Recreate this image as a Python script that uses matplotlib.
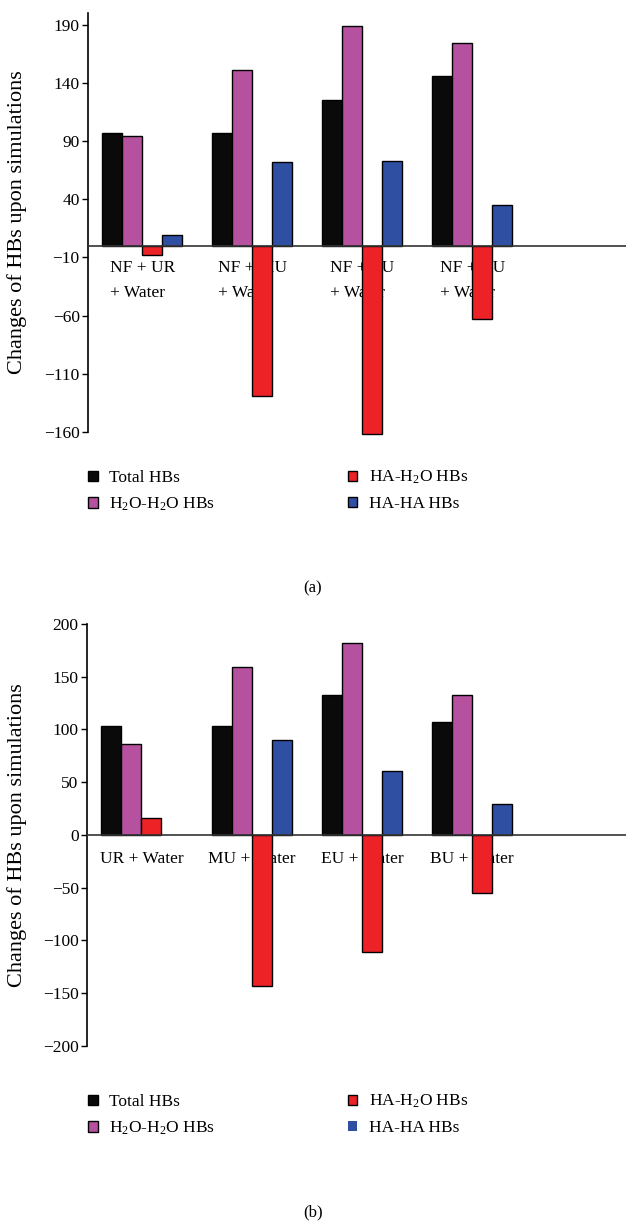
import matplotlib
matplotlib.use("Agg")
import matplotlib.pyplot as plt
import numpy as np

plt.rcParams['font.family'] = ['Liberation Serif', 'DejaVu Serif']
plt.rcParams['mathtext.fontset'] = 'custom'
plt.rcParams['mathtext.rm'] = 'Liberation Serif'
plt.rcParams['mathtext.it'] = 'Liberation Serif:italic'

# data
series = ['Total HBs', 'H$_2$O-H$_2$O HBs', 'HA-H$_2$O HBs', 'HA-HA HBs']
colors = ['#0a0a0a', '#b5519e', '#ec2227', '#2f4fa3']

cats_a = ['NF + UR\n+ Water', 'NF + MU\n+ Water', 'NF + EU\n+ Water', 'NF + BU\n+ Water']
total_a = [97, 97, 125, 146]
h2o_a = [94, 151, 189, 174]
hah2o_a = [-8, -129, -162, -63]
haha_a = [9.5, 72, 73, 35]
yticks_a = [190, 140, 90, 40, -10, -60, -110, -160]

cats_b = ['UR + Water', 'MU + Water', 'EU + Water', 'BU + Water']
total_b = [103, 103, 133, 107]
h2o_b = [86, 159, 182, 133]
hah2o_b = [16.5, -143, -111, -55]
haha_b = [0, 90, 61, 29]
yticks_b = [200, 150, 100, 50, 0, -50, -100, -150, -200]

W, H = 626, 1221
fig = plt.figure(figsize=(W / 100, H / 100), dpi=100)


def panel(rect, cats, vals, yticks, ylim, lab_y, leg_y, cap, cap_y):
    ax = fig.add_axes(rect)
    x = np.arange(len(cats))
    w = 0.182
    for i, v in enumerate(vals):
        v = np.array(v, dtype=float)
        ax.bar(x + (i - 1.5) * w, v, w, color=colors[i], edgecolor='black',
               linewidth=np.where(v == 0, 0, 1.0), label=series[i],
               clip_on=False, zorder=3)
    ax.axhline(0, color='#333333', lw=1.2, zorder=4)
    ax.set_xlim(-0.494, 4.397)
    ax.set_ylim(*ylim)
    ax.set_yticks(yticks)
    ax.set_yticklabels([str(t).replace('-', '\u2212') for t in yticks], fontsize=12.5)
    ax.tick_params(axis='y', length=4, width=1, direction='out', pad=2)
    ax.set_xticks([])
    for s in ['top', 'right', 'bottom']:
        ax.spines[s].set_visible(False)
    ax.spines['left'].set_linewidth(1.2)
    for xi, c in zip(x, cats):
        ax.text(xi, lab_y, c, ha='center', va='top', multialignment='left',
                fontsize=12.5, linespacing=1.75, zorder=2)
    ax.set_ylabel('Changes of HBs upon simulations', fontsize=16)
    ax.yaxis.set_label_coords(-(rect[0] * W - 27) / (rect[2] * W), 0.5)
    ax.legend(loc='upper left', bbox_to_anchor=(0.13, leg_y),
              bbox_transform=fig.transFigure, ncol=2, frameon=False,
              fontsize=12.5, handlelength=0.55, handleheight=0.55,
              handletextpad=0.65, columnspacing=7.65, labelspacing=0.55,
              borderaxespad=0)
    fig.text(0.5, cap_y, cap, ha='center', va='center', fontsize=12)
    return ax


panel([88 / W, 1 - 432 / H, 1 - 88 / W, (432 - 13) / H], cats_a,
      [total_a, h2o_a, hah2o_a, haha_a], yticks_a, (-160, 200), -12.5,
      1 - 462 / H, '(a)', 1 - 588 / H)
panel([87 / W, 1 - 1046 / H, 1 - 87 / W, (1046 - 624) / H], cats_b,
      [total_b, h2o_b, hah2o_b, haha_b], yticks_b, (-200, 200), -15.5,
      1 - 1086 / H, '(b)', 1 - 1212 / H)

fig.savefig('out.png', dpi=100)
